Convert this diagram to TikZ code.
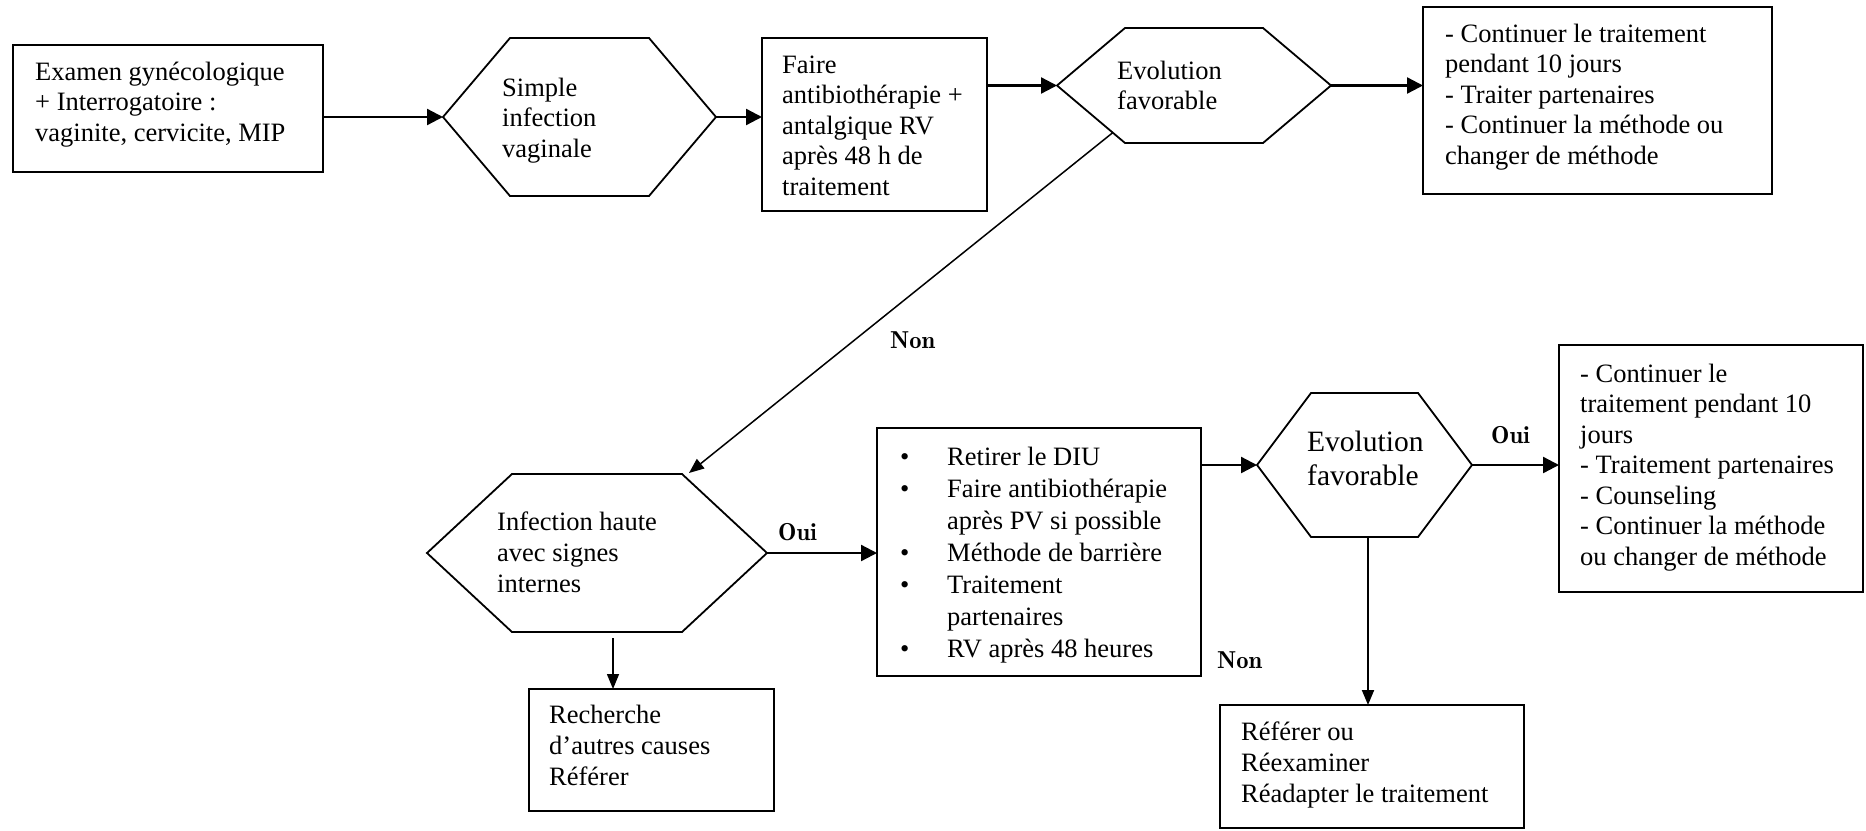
\documentclass[tikz,border=0pt]{standalone}
\usepackage{fontspec}
\newfontfamily\tnr{Liberation Serif}
\newfontfamily\lmdemi{lmromandemi10-regular.otf}
\usetikzlibrary{arrows.meta,calc}

% outline of a hexagonal decision node: #1 node name, #2 horizontal slant
\newcommand\hexoutline[2]{%
  \draw[hexline] (#1.west) -- ([xshift=#2]#1.north west) -- ([xshift=-#2]#1.north east)
    -- (#1.east) -- ([xshift=-#2]#1.south east) -- ([xshift=#2]#1.south west) -- cycle;}
% multi-line left-aligned text whose baseline is the first line
\newcommand\lines[1]{\begin{tabular}[t]{@{}l@{}}#1\end{tabular}}
\newcommand\bul{\makebox[47pt][l]{\textbullet}}
\newcommand\nobul{\hspace*{47pt}}

\begin{document}
\begin{tikzpicture}[x=1pt,y=-1pt,
  boxst/.style={draw, line width=2pt, inner sep=0pt, outer sep=0pt, anchor=north west},
  hexst/.style={inner sep=0pt, outer sep=0pt, anchor=north west},
  hexline/.style={line width=1.8pt, line join=miter},
  txt/.style={inner sep=0pt, anchor=base west, font=\tnr\fontsize{26.5}{30.5}\selectfont},
  lbl/.style={inner sep=0pt, anchor=base west, font=\lmdemi\fontsize{24.5}{30}\selectfont},
  arr/.style={line width=2.3pt, -{Triangle[length=16pt,width=16pt]}},
  tarr/.style={line width=1.5pt, -{Triangle[length=15pt,width=12pt]}}]

\useasboundingbox (0,0) rectangle (1866,830);
\fill[white] (0,0) rectangle (1866,830);

% rectangular boxes
\node[boxst, minimum width=310pt, minimum height=127pt] (b1) at (13,45) {};
\node[boxst, minimum width=225pt, minimum height=173pt] (b2) at (762,38) {};
\node[boxst, minimum width=349pt, minimum height=187pt] (b3) at (1423,7) {};
\node[boxst, minimum width=324pt, minimum height=248pt] (b4) at (877,428) {};
\node[boxst, minimum width=304pt, minimum height=247pt] (b5) at (1559,345) {};
\node[boxst, minimum width=245pt, minimum height=122pt] (b6) at (529,689) {};
\node[boxst, minimum width=304pt, minimum height=123pt] (b7) at (1220,705) {};

% hexagonal decision nodes
\node[hexst, minimum width=273pt, minimum height=158pt] (h1) at (443,38) {};
\node[hexst, minimum width=274pt, minimum height=115pt] (h2) at (1057,28) {};
\node[hexst, minimum width=340pt, minimum height=158pt] (h3) at (427,474) {};
\node[hexst, minimum width=215pt, minimum height=144pt] (h4) at (1257,393) {};
\hexoutline{h1}{67pt}
\hexoutline{h2}{68pt}
\hexoutline{h3}{85pt}
\hexoutline{h4}{54pt}

% texts
\node[txt] (t1) at (35,80) {\lines{Examen gynécologique\\+ Interrogatoire :\\vaginite, cervicite, MIP}};
\node[txt] (th1) at (502,96) {\lines{Simple\\infection\\vaginale}};
\node[txt] (t2) at (782,73) {\lines{Faire\\antibiothérapie +\\antalgique RV\\après 48 h de\\traitement}};
\node[txt] (th2) at (1117,79) {\lines{Evolution\\favorable}};
\node[txt] (t3) at (1445,42) {\lines{- Continuer le traitement\\pendant 10 jours\\- Traiter partenaires\\- Continuer la méthode ou\\changer de méthode}};
\node[txt, font=\tnr\fontsize{26.5}{32}\selectfont] (t4) at (900,465) {\lines{\bul Retirer le DIU\\\bul Faire antibiothérapie\\\nobul après PV si possible\\\bul Méthode de barrière\\\bul Traitement\\\nobul partenaires\\\bul RV après 48 heures}};
\node[txt] (t5) at (1580,382) {\lines{- Continuer le\\traitement pendant 10\\jours\\- Traitement partenaires\\- Counseling\\- Continuer la méthode\\ou changer de méthode}};
\node[txt, font=\tnr\fontsize{26.5}{31}\selectfont] (th3) at (497,530) {\lines{Infection haute\\avec signes\\internes}};
\node[txt, font=\tnr\fontsize{26.5}{31}\selectfont] (t6) at (549,723) {\lines{Recherche\\d’autres causes\\Référer}};
\node[txt, font=\tnr\fontsize{29.5}{34}\selectfont] (th4) at (1307,451) {\lines{Evolution\\favorable}};
\node[txt, font=\tnr\fontsize{26.5}{31}\selectfont] (t7) at (1241,740) {\lines{Référer ou\\Réexaminer\\Réadapter le traitement}};

% branch labels
\node[lbl] (non1) at (890,348) {Non};
\node[lbl] (oui1) at (778,540) {Oui};
\node[lbl] (oui2) at (1491,443) {Oui};
\node[lbl] (non2) at (1217,668) {Non};

% connectors
\draw[arr] (b1.east |- h1.west) -- (h1.west);
\draw[arr] (h1.east) -- (h1.east -| b2.west);
\draw[arr] (b2.east |- h2.west) -- (h2.west);
\draw[arr] (h2.east) -- (h2.east -| b3.west);
\coordinate (dstart) at ($(h2.west)!0.82!([xshift=68pt]h2.south west)$);
\coordinate (dend) at ([xshift=-78pt,yshift=1pt]h3.north east);
\draw[tarr] (dstart) -- (dend);
\draw[arr] (h3.east) -- (h3.east -| b4.west);
\coordinate (h3d) at ([xshift=16pt,yshift=-6pt]h3.south);
\draw[tarr] (h3d) -- (h3d |- b6.north);
\draw[arr] (b4.east |- h4.west) -- (h4.west);
\draw[arr] (h4.east) -- (h4.east -| b5.west);
\coordinate (h4d) at ([xshift=3.5pt]h4.south);
\draw[tarr, line width=2pt] (h4d) -- (h4d |- b7.north);
\end{tikzpicture}
\end{document}
